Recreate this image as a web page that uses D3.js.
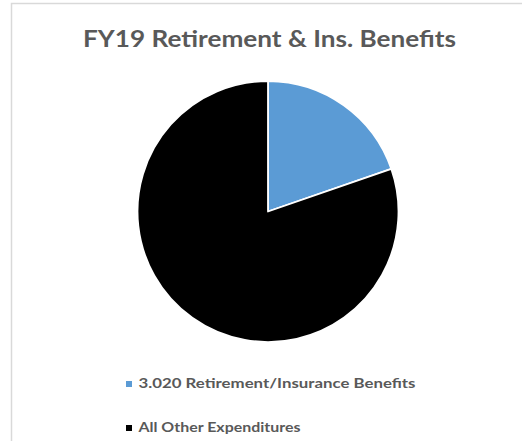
<!DOCTYPE html>
<html>
<head>
<meta charset="utf-8">
<script src="https://cdn.jsdelivr.net/npm/d3@7/dist/d3.min.js"></script>
<style>
  html, body { margin: 0; padding: 0; background: #fff; }
  svg { display: block; }
</style>
</head>
<body>
<svg id="chart" width="522" height="441"></svg>
<script>
// Share of FY19 spending (percent)
const categories = ["3.020 Retirement/Insurance Benefits", "All Other Expenditures"];
const values = [19.7, 80.3];
const colors = ["#5b9bd5", "#000000"];
const title = "FY19 Retirement & Ins. Benefits";

const svg = d3.select("#chart");
const W = 522, H = 441;

// chart frame
svg.append("rect")
  .attr("x", 11.5).attr("y", 3.5)
  .attr("width", W + 20).attr("height", H + 20)
  .attr("fill", "#fff")
  .attr("stroke", "#d9d9d9")
  .attr("stroke-width", 1.5);

// title
svg.append("text")
  .attr("x", 83).attr("y", 47)
  .attr("font-family", "Lato, 'Open Sans', sans-serif")
  .attr("font-weight", 700)
  .attr("font-size", 23)
  .attr("fill", "#595959")
  .attr("textLength", 373)
  .attr("lengthAdjust", "spacingAndGlyphs")
  .text(title);

// pie
const cx = 268, cy = 211.5, r = 130.5;
const pie = d3.pie().sort(null).value(d => d.v);
const arc = d3.arc().innerRadius(0).outerRadius(r);
const data = categories.map((c, i) => ({ c, v: values[i], col: colors[i] }));

svg.append("g")
  .attr("transform", `translate(${cx},${cy})`)
  .selectAll("path")
  .data(pie(data))
  .join("path")
  .attr("d", arc)
  .attr("fill", d => d.data.col)
  .attr("stroke", "#fff")
  .attr("stroke-width", 1.8)
  .attr("stroke-linejoin", "round");

// legend
const legendY = d3.scaleOrdinal().domain(categories).range([388, 432]);
const legendW = [277, 162];
const lg = svg.append("g");
data.forEach((d, i) => {
  const y = legendY(d.c);
  lg.append("rect")
    .attr("x", 126).attr("y", y - 7)
    .attr("width", 6).attr("height", 6)
    .attr("fill", d.col);
  lg.append("text")
    .attr("x", 138.5).attr("y", y)
    .attr("font-family", "Lato, 'Open Sans', sans-serif")
    .attr("font-weight", 700)
    .attr("font-size", 12.5)
    .attr("fill", "#595959")
    .attr("textLength", legendW[i])
    .attr("lengthAdjust", "spacingAndGlyphs")
    .text(d.c);
});
</script>
</body>
</html>
